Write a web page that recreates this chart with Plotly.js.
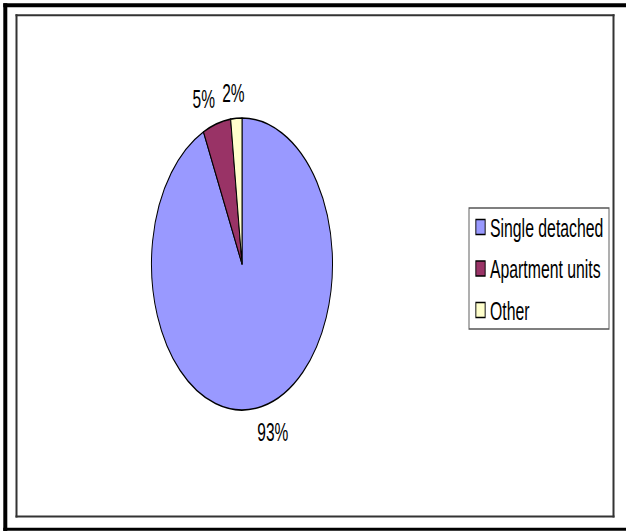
<!DOCTYPE html>
<html><head><meta charset="utf-8">
<script src="https://cdn.plot.ly/plotly-3.0.1.min.js"></script>
<style>
html,body{margin:0;padding:0;background:#fff;overflow:hidden;width:626px;height:531px}
#chart{width:1010px;height:531px;transform:scaleX(0.62);transform-origin:0 0}
</style>
</head><body><div id="chart"></div>
<script>
const categories = ["Single detached", "Apartment units", "Other"];
const shares = [93, 5, 2];
const sliceColors = ["#9999FF", "#993366", "#FFFFCC"];

// The reference is a horizontally squeezed chart: draw it wide, squeeze by S.
const S = 0.62, H = 531, WU = Math.round(626 / S);
const fx = v => v / S / WU;          // squeezed page px -> paper x
const fy = v => 1 - v / H;           // page px -> paper y
const FONT = "Liberation Sans, Arial, sans-serif";
const PIE_CX = 242, PIE_CY = 264, PIE_R = 146;

const trace = {
  type: 'pie', labels: categories, values: shares, sort: false,
  direction: 'clockwise', rotation: 0,
  marker: {colors: sliceColors, line: {color: '#000', width: 1.6}},
  textinfo: 'percent', textposition: 'outside',
  outsidetextfont: {family: FONT, size: 25, color: '#000'},
  domain: {x: [(PIE_CX / S - PIE_R) / WU, (PIE_CX / S + PIE_R) / WU], y: [fy(PIE_CY + PIE_R), fy(PIE_CY - PIE_R)]},
  hoverinfo: 'none'
};

const vline = (x, y0, y1, w, c) => ({type: 'line', xref: 'paper', yref: 'paper', x0: fx(x), x1: fx(x), y0: fy(y0), y1: fy(y1), line: {color: c, width: w / S}});
const hline = (y, x0, x1, w, c) => ({type: 'line', xref: 'paper', yref: 'paper', x0: fx(x0), x1: fx(x1), y0: fy(y), y1: fy(y), line: {color: c, width: w}});

const layout = {
  width: WU, height: H, margin: {l: 0, r: 0, t: 0, b: 0},
  paper_bgcolor: '#fff', showlegend: true,
  legend: {x: fx(469), xanchor: 'left', y: fy(208), yanchor: 'top',
    bordercolor: '#555', borderwidth: 1.5, bgcolor: '#fff',
    font: {family: FONT, size: 25.5, color: '#000'}},
  shapes: [
    vline(5.3, 3.3, 531, 4, '#000'),
    hline(5.3, 3.3, 626, 4, '#000'),
    hline(529.3, 3.3, 626, 3, '#000'),
    vline(16.5, 14.3, 517.5, 2, '#333'),
    vline(613.5, 14.3, 517.5, 2, '#333'),
    hline(15.3, 15.5, 614.5, 2, '#333'),
    hline(516.5, 15.5, 614.5, 2, '#333')
  ]
};

Plotly.newPlot('chart', [trace], layout, {staticPlot: true}).then(gd => {
  // outside percent labels, placed along each slice's mid direction
  const slices = [...gd.querySelectorAll('.pielayer g.slice')];
  let x0 = Infinity, x1 = -Infinity, y0 = Infinity, y1 = -Infinity;
  slices.forEach(s => {
    const b = s.querySelector('path.surface').getBBox();
    x0 = Math.min(x0, b.x); x1 = Math.max(x1, b.x + b.width);
    y0 = Math.min(y0, b.y); y1 = Math.max(y1, b.y + b.height);
  });
  const cx = (x0 + x1) / 2, cy = (y0 + y1) / 2, r = (x1 - x0) / 2;
  const GAP = 12, HX = 45;
  const cd = gd.calcdata[0];
  slices.forEach((s, i) => {
    const pt = cd[i];
    const m = Math.hypot(pt.pxmid[0], pt.pxmid[1]);
    const ux = pt.pxmid[0] / m, uy = pt.pxmid[1] / m;
    const g = s.querySelector('g.slicetext');
    if (!g) return;
    g.removeAttribute('transform');
    const t = g.querySelector('text');
    t.removeAttribute('transform');
    const b = t.getBBox();
    const tx = cx + (r + GAP) * ux + ux * (b.width / 2 + HX);
    const ty = cy + (r + GAP) * uy + uy * (b.height / 2);
    t.setAttribute('transform', `translate(${tx - (b.x + b.width / 2)},${ty - (b.y + b.height / 2)})`);
  });
  gd.querySelectorAll('.pielayer path.textline').forEach(l => l.style.display = 'none');

  // legend box geometry like the reference
  const leg = gd.querySelector('g.legend');
  const LX = 469 / S, LY = 208, LW = (609 - 469) / S, LH = 329 - 208;
  leg.setAttribute('transform', `translate(${LX},${LY})`);
  const bg = leg.querySelector('rect.bg');
  bg.setAttribute('x', 0); bg.setAttribute('y', 0);
  bg.setAttribute('width', LW); bg.setAttribute('height', LH);
  const sb = leg.querySelector('g.scrollbox');
  if (sb) { sb.removeAttribute('clip-path'); sb.setAttribute('transform', 'translate(0,0)'); }
  const gr = leg.querySelector('g.groups');
  if (gr) gr.setAttribute('transform', 'translate(0,0)');
  const items = [...leg.querySelectorAll('g.traces')];
  const FIRST = 227 - 208, STEP = 41.5, MX = (480.5 - 469) / S, TX = (490 - 469) / S;
  items.forEach((it, i) => {
    it.setAttribute('transform', `translate(0,${FIRST + i * STEP})`);
    const sym = it.querySelector('path.legendpie');
    if (sym) { sym.setAttribute('d', 'M7.5,7.5H-7.5V-7.5H7.5Z'); sym.setAttribute('transform', `translate(${MX},0)`); sym.style.strokeWidth = '1.5px'; sym.style.stroke = '#000'; }
    const txt = it.querySelector('text.legendtext');
    if (txt) txt.setAttribute('x', TX);
  });
});
</script>
</body></html>
